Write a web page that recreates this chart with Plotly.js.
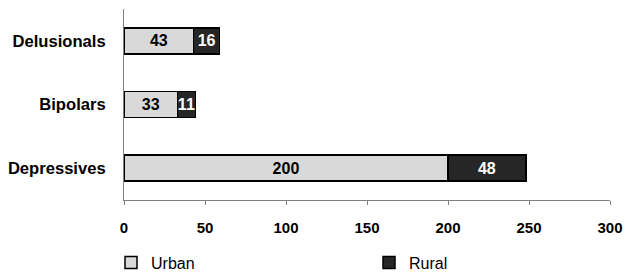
<!DOCTYPE html>
<html>
<head>
<meta charset="utf-8">
<script src="https://cdn.plot.ly/plotly-3.0.1.min.js"></script>
<style>html,body{margin:0;padding:0;background:#fff;}#chart{width:625px;height:278px;}</style>
</head>
<body>
<div id="chart"></div>
<script>
const categories = ["Depressives", "Bipolars", "Delusionals"];
const urbanValues = [200, 33, 43];
const ruralValues = [48, 11, 16];
const xTicks = [0, 50, 100, 150, 200, 250, 300];

const FONT = "Liberation Sans, Arial, sans-serif";

const traces = [
  {
    type: "bar", orientation: "h", name: "Urban", legend: "legend",
    y: categories, x: urbanValues,
    text: urbanValues.map(String), textposition: "inside", insidetextanchor: "middle",
    constraintext: "none", textangle: 0,
    textfont: {family: FONT, size: 16, color: "#000000", weight: "bold"},
    marker: {color: "#d9d9d9", line: {color: "#000000", width: 1.5}},
    hoverinfo: "none"
  },
  {
    type: "bar", orientation: "h", name: "Rural", legend: "legend2",
    y: categories, x: ruralValues,
    text: ruralValues.map(String), textposition: "inside", insidetextanchor: "middle",
    constraintext: "none", textangle: 0,
    textfont: {family: FONT, size: 16, color: "#ffffff", weight: "bold"},
    marker: {color: "#262626", line: {color: "#000000", width: 1.5}},
    hoverinfo: "none"
  }
];

const legendBase = {
  orientation: "h", xref: "container", yref: "container",
  xanchor: "left", y: 0.055, yanchor: "middle",
  font: {family: FONT, size: 16, color: "#000000"}
};

const layout = {
  width: 625, height: 278,
  margin: {l: 124, r: 15, t: 9, b: 78, pad: 0},
  paper_bgcolor: "#ffffff", plot_bgcolor: "#ffffff",
  barmode: "stack", bargap: 0.59,
  font: {family: FONT, color: "#000000"},
  showlegend: true,
  legend: Object.assign({}, legendBase, {x: 111 / 625}),
  legend2: Object.assign({}, legendBase, {x: 369 / 625}),
  xaxis: {
    range: [0, 300], tickvals: xTicks, ticktext: xTicks.map(String),
    showgrid: false, zeroline: false,
    showline: true, linecolor: "#808080", linewidth: 1,
    ticks: "outside", ticklen: 4, tickcolor: "#808080", tickwidth: 1,
    ticklabelstandoff: 10,
    tickfont: {family: FONT, size: 15, color: "#000000", weight: "bold"},
    fixedrange: true
  },
  yaxis: {
    categoryorder: "array", categoryarray: categories,
    showgrid: false, zeroline: false,
    showline: true, linecolor: "#808080", linewidth: 1,
    ticks: "", ticklabelstandoff: 14,
    tickfont: {family: FONT, size: 16.6, color: "#000000", weight: "bold"},
    fixedrange: true
  }
};

Plotly.newPlot("chart", traces, layout, {displayModeBar: false, staticPlot: true});
</script>
</body>
</html>
